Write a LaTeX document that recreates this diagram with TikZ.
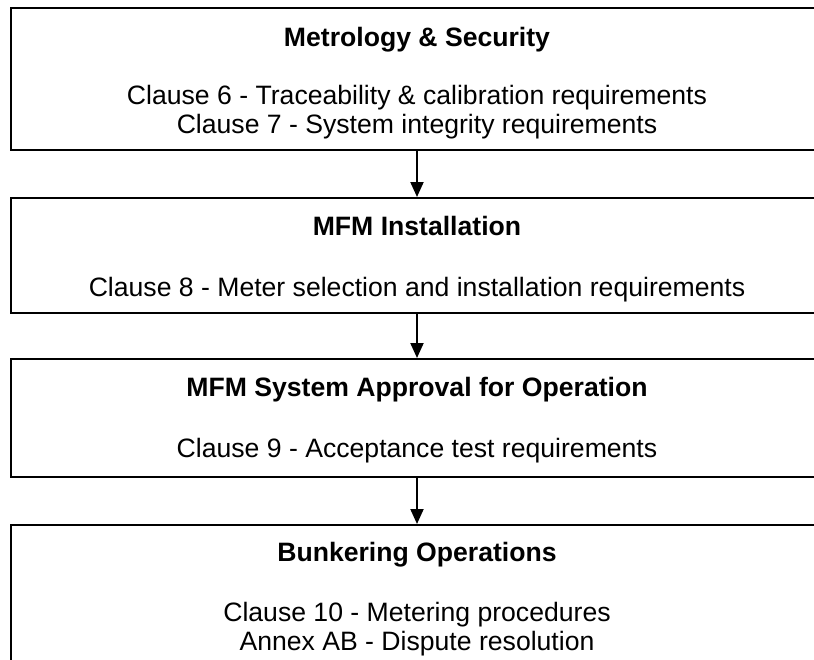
\documentclass[tikz,border=0pt]{standalone}
\usepackage{fontspec}
\setmainfont{Liberation Sans}
\usetikzlibrary{arrows.meta}
\begin{document}
\begin{tikzpicture}[x=1pt,y=1pt,
  box/.style={draw=black,line width=2pt,rectangle,inner sep=0pt,minimum width=812pt,fill=none},
  ttl/.style={anchor=base,inner sep=0pt,font=\fontsize{26.6}{30}\selectfont\bfseries},
  txt/.style={anchor=base,inner sep=0pt,font=\fontsize{26.6}{30}\selectfont},
  arr/.style={line width=2pt,-{Triangle[length=15pt,width=13pt]}}]
\useasboundingbox (0,0) rectangle (814,-659);
\clip (0,0) rectangle (814,-659);
\node[box,minimum height=142pt] (b1) at (417,-79) {};
\node[box,minimum height=115pt] (b2) at (417,-255.5) {};
\node[box,minimum height=118pt] (b3) at (417,-418) {};
\node[box,minimum height=200pt] (b4) at (417,-625) {};
\node[ttl] (t1) at (417,-46) {Metrology \& Security};
\node[txt] (c6) at (417,-104) {Clause 6 - Traceability \& calibration requirements};
\node[txt] (c7) at (417,-133) {Clause 7 - System integrity requirements};
\node[ttl] (t2) at (417,-235) {MFM Installation};
\node[txt] (c8) at (417,-296) {Clause 8 - Meter selection and installation requirements};
\node[ttl] (t3) at (417,-396) {MFM System Approval for Operation};
\node[txt] (c9) at (417,-457) {Clause 9 - Acceptance test requirements};
\node[ttl] (t4) at (417,-561) {Bunkering Operations};
\node[txt] (c10) at (417,-621) {Clause 10 - Metering procedures};
\node[txt] (aab) at (417,-650) {Annex AB - Dispute resolution};
\draw[arr] (b1.south) -- (b2.north);
\draw[arr] (b2.south) -- (b3.north);
\draw[arr] (b3.south) -- (b4.north);
\end{tikzpicture}
\end{document}
